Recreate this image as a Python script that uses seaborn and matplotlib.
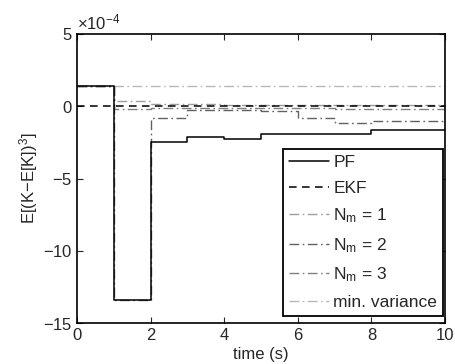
import numpy as np
import pandas as pd
import matplotlib
matplotlib.use("Agg")
import matplotlib.pyplot as plt
import seaborn as sns
from matplotlib.ticker import ScalarFormatter, MultipleLocator

# time grid (s) – values are piecewise constant (step-post)
t = [0, 1, 2, 3, 4, 5, 6, 7, 8, 9, 10]
# values in units of 1e-4
pf      = [1.42, -13.4, -2.45, -2.10, -2.27, -1.94, -1.94, -1.94, -1.64, -1.64, -1.64]
ekf     = [0.0, 0.0, 0.0, 0.0, 0.0, 0.0, 0.0, 0.0, 0.0, 0.0, 0.0]
nm1     = [1.42, 0.35, 0.15, 0.15, 0.12, 0.12, 0.12, 0.10, 0.10, 0.10, 0.10]
nm2     = [1.42, -13.4, -0.80, -0.25, -0.28, -0.30, -0.80, -1.15, -1.05, -1.05, -1.05]
nm3     = [1.42, -0.20, -0.12, -0.15, -0.15, -0.15, -0.15, -0.18, -0.18, -0.18, -0.18]
minvar  = [1.42] * 11
scale = 1e-4

labels = ["PF", "EKF", "N$_{m}$ = 1", "N$_{m}$ = 2", "N$_{m}$ = 3", "min. variance"]
series = [pf, ekf, nm1, nm2, nm3, minvar]

sns.set_style("ticks")
plt.rcParams["font.family"] = ["Liberation Sans", "DejaVu Sans"]
plt.rcParams["mathtext.default"] = "regular"
plt.rcParams["axes.unicode_minus"] = True

fig = plt.figure(figsize=(4.56, 3.64), dpi=100)
ax = fig.add_axes([0.169, 0.1126, 0.807, 0.794])

dashdot = (0, (7, 2.5, 1.2, 2.5))
styles = [
    dict(color="black", linestyle="-", linewidth=1.1),
    dict(color="black", linestyle=(0, (5, 3.5)), linewidth=1.1),
    dict(color="0.62", linestyle=dashdot, linewidth=1.0),
    dict(color="0.38", linestyle=dashdot, linewidth=1.0),
    dict(color="0.50", linestyle=dashdot, linewidth=1.0),
    dict(color="0.72", linestyle=dashdot, linewidth=1.0),
]

# draw from back to front so PF and EKF are on top
order = [5, 2, 4, 3, 1, 0]
for i in order:
    df = pd.DataFrame({"t": t, "v": np.array(series[i]) * scale})
    sns.lineplot(data=df, x="t", y="v", ax=ax, drawstyle="steps-post",
                 label=labels[i], legend=False, **styles[i])

ax.set_xlim(0, 10)
ax.set_ylim(-15e-4, 5e-4)
ax.xaxis.set_major_locator(MultipleLocator(2))
ax.yaxis.set_major_locator(MultipleLocator(5e-4))
fmt = ScalarFormatter(useMathText=True)
fmt.set_powerlimits((-4, -4))
ax.yaxis.set_major_formatter(fmt)
ax.yaxis.get_offset_text().set_fontsize(12)

ax.tick_params(direction="in", top=True, right=True, labelsize=12, length=4, width=0.8)
for s in ax.spines.values():
    s.set_linewidth(1.2)
    s.set_color("black")

ax.set_xlabel("time (s)", fontsize=12, labelpad=3)
ax.set_ylabel("E[(K\u2212E[K])$^{3}$]", fontsize=12, labelpad=2)

handles, labs = ax.get_legend_handles_labels()
hmap = dict(zip(labs, handles))
leg = ax.legend([hmap[l] for l in labels], labels, loc="lower right",
                bbox_to_anchor=(0.995, 0.024), borderaxespad=0, fontsize=12.5,
                frameon=True, fancybox=False, edgecolor="black",
                handlelength=2.3, handletextpad=0.25, labelspacing=0.62,
                borderpad=0.35)
leg.get_frame().set_linewidth(1.3)
leg.get_frame().set_alpha(1)

fig.savefig("out.png", dpi=100)
